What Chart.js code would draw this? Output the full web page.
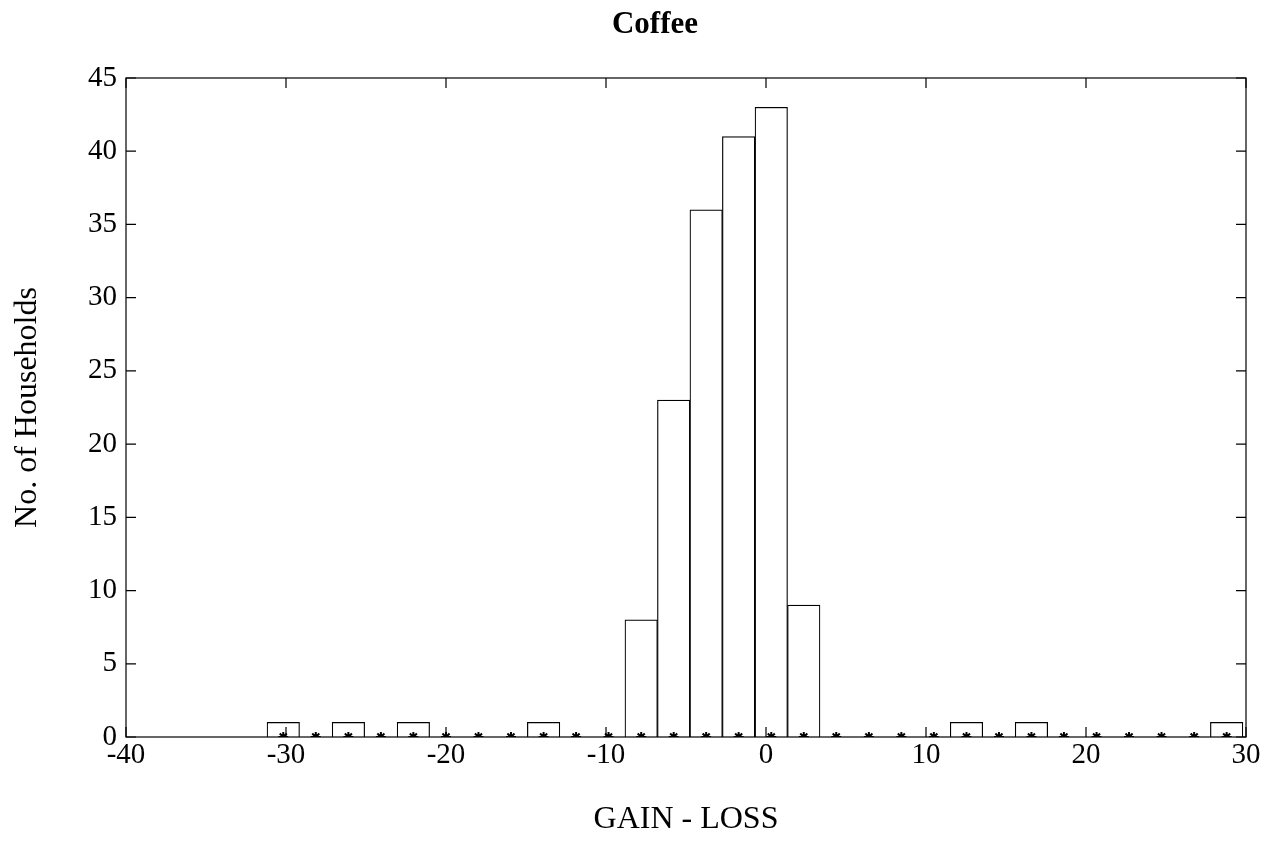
<!DOCTYPE html>
<html>
<head>
<meta charset="utf-8">
<title>Coffee</title>
<script src="https://cdn.jsdelivr.net/npm/chart.js@4/dist/chart.umd.min.js"></script>
<style>
  html, body { margin: 0; padding: 0; background: #fff; }
  #wrap { width: 1279px; height: 842px; position: relative; }
</style>
</head>
<body>
<div id="wrap"><canvas id="chart"></canvas></div>
<script>
// histogram bin centres (GAIN - LOSS)
const binCenters = [
  -30.17, -28.14, -26.10, -24.07, -22.04, -20.00, -17.97, -15.94, -13.90, -11.87,
  -9.84, -7.80, -5.77, -3.74, -1.71, 0.33, 2.36, 4.39, 6.43, 8.46,
  10.49, 12.53, 14.56, 16.59, 18.62, 20.66, 22.69, 24.72, 26.76, 28.79
];
// number of households per bin
const households = [
  1, 0, 1, 0, 1, 0, 0, 0, 1, 0,
  0, 8, 23, 36, 41, 43, 9, 0, 0, 0,
  0, 1, 0, 1, 0, 0, 0, 0, 0, 1
];
const xRange = [-40, 30];
const yRange = [0, 45];
const xStep = 10;
const yStep = 5;

const chartTitle = 'Coffee';
const xTitle = 'GAIN - LOSS';
const yTitle = 'No. of Households';

const serif = '"Liberation Serif", "Times New Roman", serif';

// frame + inward ticks on all four sides, like the original plot
const framePlugin = {
  id: 'frame',
  afterDatasetsDraw(chart) {
    const { ctx, chartArea: a, scales } = chart;
    const len = 10;
    ctx.save();
    ctx.strokeStyle = '#000';
    ctx.lineWidth = 1.2;
    ctx.strokeRect(a.left, a.top, a.right - a.left, a.bottom - a.top);
    ctx.beginPath();
    scales.x.ticks.forEach(t => {
      const px = scales.x.getPixelForValue(t.value);
      ctx.moveTo(px, a.bottom); ctx.lineTo(px, a.bottom - len);
      ctx.moveTo(px, a.top); ctx.lineTo(px, a.top + len);
    });
    scales.y.ticks.forEach(t => {
      const py = scales.y.getPixelForValue(t.value);
      ctx.moveTo(a.left, py); ctx.lineTo(a.left + len, py);
      ctx.moveTo(a.right, py); ctx.lineTo(a.right - len, py);
    });
    ctx.stroke();
    ctx.restore();
  }
};

// bold title, placed a little left of the plot centre as in the source
const titlePlugin = {
  id: 'plotTitle',
  afterDraw(chart) {
    const { ctx } = chart;
    ctx.save();
    ctx.fillStyle = '#000';
    ctx.font = 'bold 31px ' + serif;
    ctx.textAlign = 'center';
    ctx.textBaseline = 'middle';
    ctx.fillText(chartTitle, 655, 25);
    ctx.restore();
  }
};

const ctx = document.getElementById('chart');
new Chart(ctx, {
  type: 'bar',
  data: {
    datasets: [
      {
        type: 'scatter',
        label: 'centres',
        data: binCenters.map(x => ({ x: x, y: 0 })),
        pointStyle: 'star',
        pointRadius: 5,
        pointBorderWidth: 2,
        borderColor: '#000',
        backgroundColor: '#000',
        showLine: false,
        order: 0
      },
      {
        label: yTitle,
        data: binCenters.map((x, i) => ({ x: x, y: households[i] })),
        backgroundColor: '#fff',
        borderColor: '#000',
        borderWidth: 1.2,
        barPercentage: 1,
        categoryPercentage: 1,
        order: 1
      }
    ]
  },
  options: {
    responsive: true,
    maintainAspectRatio: false,
    animation: false,
    layout: { padding: { top: 78, right: 33, left: 0, bottom: 0 } },
    plugins: {
      legend: { display: false },
      tooltip: { enabled: false },
      title: { display: false }
    },
    scales: {
      x: {
        type: 'linear',
        offset: false,
        min: xRange[0],
        max: xRange[1],
        ticks: {
          stepSize: xStep,
          color: '#000',
          padding: 1,
          maxRotation: 0,
          font: { family: serif, size: 29 }
        },
        grid: { display: false, drawTicks: false },
        border: { display: false },
        title: {
          display: true,
          text: xTitle,
          color: '#000',
          font: { family: serif, size: 32 },
          padding: { top: 0, bottom: 3 }
        },
        afterFit(scale) { scale.height = 105; }
      },
      y: {
        min: yRange[0],
        max: yRange[1],
        ticks: {
          stepSize: yStep,
          color: '#000',
          padding: 9,
          font: { family: serif, size: 29 }
        },
        grid: { display: false, drawTicks: false },
        border: { display: false },
        title: {
          display: true,
          text: yTitle,
          color: '#000',
          font: { family: serif, size: 32 },
          padding: { top: 8, bottom: 0 }
        },
        afterFit(scale) { scale.width = 126; }
      }
    }
  },
  plugins: [framePlugin, titlePlugin]
});
</script>
</body>
</html>
